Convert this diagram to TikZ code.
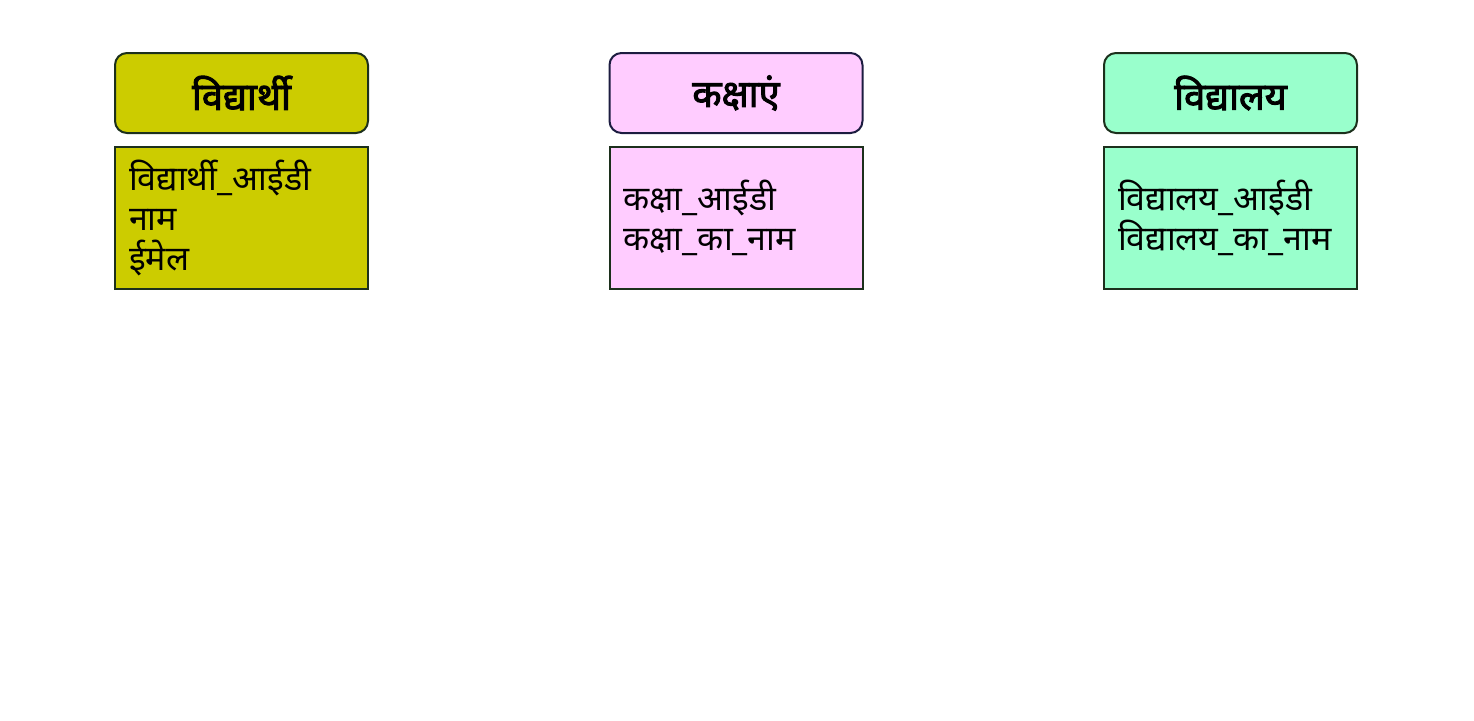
\documentclass[tikz,border=0pt]{standalone}
\usepackage{fontspec}
\setmainfont{Noto Sans}[Script=Devanagari]
\newfontfamily\headfont{Noto Sans}[Script=Devanagari,FakeBold=2.5]
\definecolor{myolive}{RGB}{204,204,0}
\definecolor{mypink}{RGB}{255,204,255}
\definecolor{mymint}{RGB}{153,255,204}
\definecolor{myedge}{RGB}{28,48,28}
\definecolor{mynavy}{RGB}{28,28,64}
\usetikzlibrary{positioning}

\begin{document}
\begin{tikzpicture}[x=0.5pt,y=-0.5pt,
        every node/.style={draw=myedge,line width=1pt},
        headbox/.style={rounded corners=6pt,minimum width=126.5pt,minimum height=40pt,
            inner sep=0pt,font=\headfont\fontsize{19}{22}\selectfont},
        attrbox/.style={minimum height=71pt,text width=112.5pt,inner xsep=7pt,
            align=left,font=\fontsize{17}{20}\selectfont},
        node distance=6pt
        ]
        \useasboundingbox (0,0) rectangle (1474,720);

        % the entity headers
        \node[headbox,fill=myolive] (student) at (241.5,93) {विद्यार्थी};
        \node[headbox,fill=mypink,draw=mynavy] (class) at (736,93) {कक्षाएं};
        \node[headbox,fill=mymint] (school) at (1230.5,93) {विद्यालय};

        % the attributes
        \node[attrbox,fill=myolive,below=of student] (studentattr) {विद्यार्थी\_आईडी\\नाम\\ईमेल};
        \node[attrbox,fill=mypink,below=of class] (classattr) {कक्षा\_आईडी\\कक्षा\_का\_नाम};
        \node[attrbox,fill=mymint,below=of school] (schoolattr) {विद्यालय\_आईडी\\विद्यालय\_का\_नाम};
        \end{tikzpicture}
\end{document}
